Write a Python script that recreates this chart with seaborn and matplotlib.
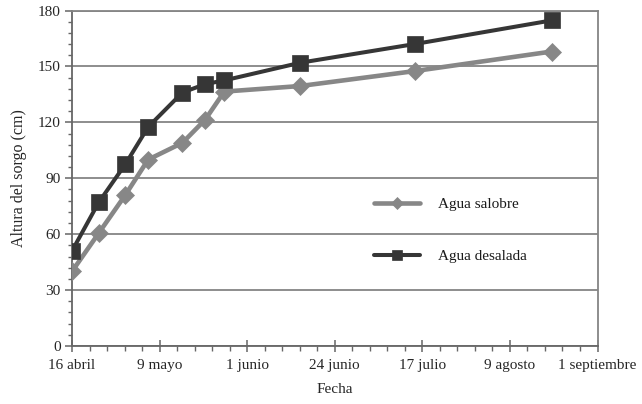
import matplotlib
matplotlib.use("Agg")
import matplotlib.pyplot as plt
import matplotlib.dates as mdates
from matplotlib.ticker import FixedLocator, MultipleLocator
import seaborn as sns
import pandas as pd
import numpy as np

# ---- data ----
fechas = ["2013-04-16", "2013-04-23", "2013-04-30", "2013-05-06", "2013-05-15",
          "2013-05-21", "2013-05-26", "2013-06-15", "2013-07-15", "2013-08-20"]
agua_salobre = [40, 60.5, 81, 100, 109, 121.5, 136.5, 139.5, 147.5, 158]
agua_desalada = [51, 77, 97.5, 117.5, 136, 140.5, 142.5, 152, 162, 174.7]
series = ["Agua salobre", "Agua desalada"]
tick_fechas = ["2013-04-16", "2013-05-09", "2013-06-01", "2013-06-24",
               "2013-07-17", "2013-08-09", "2013-09-01"]
tick_labels = ["16 abril", "9 mayo", "1 junio", "24 junio", "17 julio",
               "9 agosto", "1 septiembre"]
y_ticks = [0, 30, 60, 90, 120, 150, 180]

df = pd.DataFrame({
    "Fecha": pd.to_datetime(fechas * 2),
    "Altura": agua_salobre + agua_desalada,
    "Serie": [series[0]] * len(fechas) + [series[1]] * len(fechas),
})

sns.set_theme(style="white")
plt.rcParams["font.family"] = ["Liberation Serif", "DejaVu Serif"]
plt.rcParams["text.color"] = "#1a1a1a"

fig = plt.figure(figsize=(6.42, 4.04), dpi=100)
ax = fig.add_axes([72 / 642, 58 / 404, 525.5 / 642, 335.5 / 404])

colors = {"Agua salobre": "#878787", "Agua desalada": "#363636"}
markers = {"Agua salobre": "D", "Agua desalada": "s"}
msize = {"Agua salobre": 9.5, "Agua desalada": 11.5}
lw = {"Agua salobre": 3.3, "Agua desalada": 2.9}

for s in series:
    sub = df[df["Serie"] == s]
    sns.lineplot(data=sub, x="Fecha", y="Altura", ax=ax, color=colors[s],
                 marker=markers[s], markersize=msize[s], markeredgecolor=colors[s],
                 markeredgewidth=0.5, linewidth=lw[s], label=s, zorder=3)

t0 = pd.Timestamp(tick_fechas[0])
t1 = pd.Timestamp(tick_fechas[-1])
ax.set_xlim(t0, t1)
ax.set_ylim(y_ticks[0], y_ticks[-1])

ax.set_xticks(pd.to_datetime(tick_fechas))
ax.set_xticklabels(tick_labels, fontsize=11)
start = mdates.date2num(t0)
ax.xaxis.set_minor_locator(FixedLocator([start + i * 4.6 for i in range(31)]))
ax.set_yticks(y_ticks)
ax.set_yticklabels([str(v) for v in y_ticks], fontsize=11)
ax.yaxis.set_minor_locator(MultipleLocator(6))

ax.yaxis.grid(True, color="#858585", linewidth=1.3, zorder=0)
ax.xaxis.grid(False)

for side in ["left", "bottom"]:
    ax.spines[side].set_color("#666666")
    ax.spines[side].set_linewidth(1.3)
for side in ["top", "right"]:
    ax.spines[side].set_color("#858585")
    ax.spines[side].set_linewidth(1.3)

ax.tick_params(axis="x", which="major", direction="inout", length=9, width=1.1,
               color="#666666", pad=5, bottom=True)
ax.tick_params(axis="x", which="minor", direction="out", length=3.5, width=1.0,
               color="#666666", bottom=True)
ax.tick_params(axis="y", which="major", direction="out", length=5, width=1.1,
               color="#666666", pad=3, left=True)
ax.tick_params(axis="y", which="minor", direction="out", length=3, width=1.0,
               color="#666666", left=True)

ax.set_xlabel("Fecha", fontsize=11, labelpad=8)
ax.set_ylabel("Altura del sorgo (cm)", fontsize=11.5, labelpad=8)

leg = ax.legend(loc="center left", bbox_to_anchor=(0.575, 0.345), frameon=False,
                fontsize=11, handlelength=3.0, handletextpad=1.2,
                labelspacing=2.5, borderpad=0, borderaxespad=0, markerscale=0.6)

fig.savefig("out.png", dpi=100)
